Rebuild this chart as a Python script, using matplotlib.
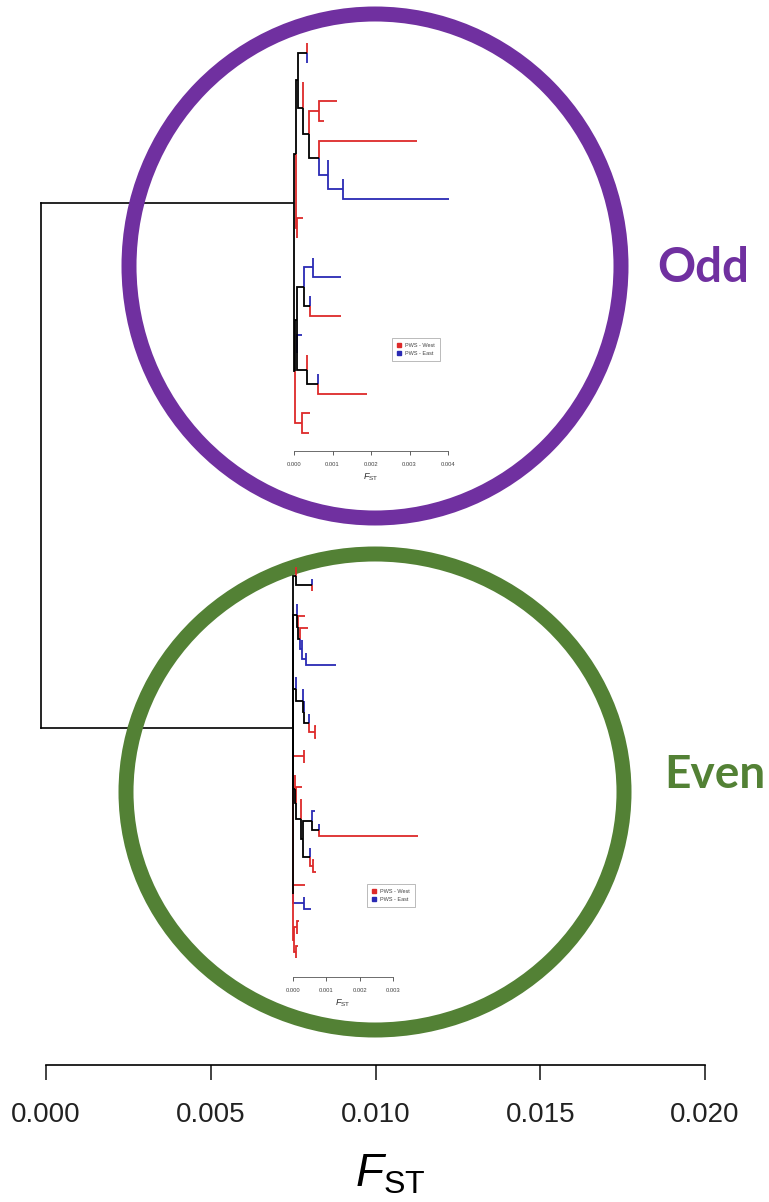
import matplotlib
matplotlib.use('Agg')
import matplotlib.pyplot as plt
from matplotlib.patches import Ellipse
from matplotlib.lines import Line2D

plt.rcParams['font.family'] = 'Liberation Sans'
plt.rcParams['mathtext.fontset'] = 'custom'
plt.rcParams['mathtext.it'] = 'Liberation Sans:italic'
plt.rcParams['mathtext.rm'] = 'Liberation Sans'

W, E = 'W', 'E'   # PWS - West / PWS - East

# main dendrogram: the two groups joined at the root
main_groups = ['Odd', 'Even']
main_root = -0.00015
main_tips = [0.0075, 0.0075]
main_ticks = [0.000, 0.005, 0.010, 0.015, 0.020]

# inset trees
# internal node = (height, [children]), tip = (height, population)
odd_upper = (0.000044, [
    (0.0001, [
        (0.00034, [(0.00034, W), (0.00034, E)]),
        (0.000226, [(0.000226, W),
                    (0.00039, [(0.00065, [(0.00111, W), (0.00078, W)]),
                               (0.00065, [(0.00319, W),
                                          (0.00088, [(0.00088, E),
                                                     (0.00128, [(0.00128, E), (0.00403, E)])])])])]),
    ]),
    (0.00007, [(0.00024, W), (0.00007, W)]),
])
odd_lower = (0.00002, [
    (0.00007, [
        (0.00026, [(0.00049, [(0.00049, E), (0.00121, E)]),
                   (0.00042, [(0.00042, E), (0.00121, W)])]),
        (0.000086, [(0.00021, E),
                    (0.00034, [(0.00034, W),
                               (0.00062, [(0.00062, E), (0.00189, W)])])]),
    ]),
    (0.00021, [(0.00042, W), (0.00039, W)]),
])
odd_tree = (0.0, [odd_upper, odd_lower])
odd_ticks = [0.000, 0.001, 0.002, 0.003, 0.004]

even_c1 = (0.00009, [(0.00009, W), (0.00057, [(0.00057, E), (0.00057, W)])])
even_c2 = (0.00013, [(0.00013, E),
                     (0.00014, [(0.00037, W),
                                (0.0002, [(0.00045, W),
                                          (0.00027, [(0.00027, E),
                                                     (0.00039, [(0.00039, E), (0.00129, E)])])])])])
even_c3 = (0.00009, [(0.00009, E),
                     (0.00029, [(0.00029, E),
                                (0.00033, [(0.00033, E),
                                           (0.00047, [(0.00047, E),
                                                      (0.00067, [(0.0007, W), (0.00069, W)])])])])])
even_c4 = (0.00033, [(0.00033, W), (0.00033, W)])
even_c5 = (0.00005, [(0.00005, W),
                     (0.0001, [(0.00028, W),
                               (0.00025, [(0.00025, W),
                                          (0.0003, [(0.00057, [(0.00065, E),
                                                               (0.00079, [(0.00079, E), (0.00374, W)])]),
                                                    (0.00051, [(0.00051, E),
                                                               (0.00061, [(0.00063, W), (0.00068, W)])])])])])])
even_c6 = (0.00001, [(0.00037, W), (0.00033, [(0.00033, E), (0.00055, E)])])
even_c7 = (0.00002, [(0.00013, [(0.00017, W), (0.00013, W)]),
                     (0.0001, [(0.00014, W), (0.0001, W)])])
even_tree = (0.0, [even_c1, even_c2, even_c3, even_c4, even_c5, even_c6, even_c7])
even_ticks = [0.000, 0.001, 0.002, 0.003]

legend_labels = ['PWS - West', 'PWS - East']

RED = '#dd2a2a'
BLUE = '#2a2ab4'
PURPLE = '#7030a0'
GREEN = '#538135'
POP_COLOUR = {W: RED, E: BLUE}

FW, FH = 769, 1202
fig = plt.figure(figsize=(FW / 100, FH / 100), dpi=100)


def px_axes(left, top, right, bottom, **kw):
    return fig.add_axes([left / FW, 1 - bottom / FH, (right - left) / FW, (bottom - top) / FH], **kw)


def is_tip(node):
    return isinstance(node[1], str)


def clade_colour(node):
    if is_tip(node):
        return POP_COLOUR[node[1]]
    cols = {clade_colour(k) for k in node[1]}
    return cols.pop() if len(cols) == 1 else 'black'


def n_tips(node):
    return 1 if is_tip(node) else sum(n_tips(k) for k in node[1])


def draw_tree(ax, node, counter, lw):
    h, kids = node
    if is_tip(node):
        y = counter[0]
        counter[0] += 1
        return y
    ys = [draw_tree(ax, k, counter, lw) for k in kids]
    y = (ys[0] + ys[-1]) / 2
    for k, yk in zip(kids, ys):
        c = clade_colour(k)
        ax.plot([h, h, k[0]], [y, yk, yk], color=c, lw=lw, zorder=3 if c == 'black' else 2,
                clip_on=False, solid_capstyle='butt', solid_joinstyle='miter')
    return y


# ---- main axis and dendrogram
ax = px_axes(46, 0, 705, 1065)
ax.set_xlim(main_ticks[0], main_ticks[-1])
gap = 728 - 203
ax.set_ylim(1 + (1065 - 728) / gap, -203 / gap)
ys = list(range(len(main_groups)))
ax.plot([main_root, main_root], [ys[0], ys[-1]], color='black', lw=1.2, clip_on=False)
for y, tip in zip(ys, main_tips):
    ax.plot([main_root, tip], [y, y], color='black', lw=1.2, clip_on=False)
for s in ['left', 'right', 'top']:
    ax.spines[s].set_visible(False)
ax.spines['bottom'].set_bounds(main_ticks[0], main_ticks[-1])
ax.spines['bottom'].set_linewidth(1.2)
ax.set_yticks([])
ax.set_xticks(main_ticks)
ax.set_xticklabels(['%.3f' % t for t in main_ticks])
ax.tick_params(axis='x', direction='out', length=11, width=1.2, pad=16, labelsize=20, colors='#222222')
ax.set_xlabel(r'$F_{\mathrm{ST}}$', fontsize=33)
ax.xaxis.set_label_coords((390 - 46) / 659, -(1197 - 1065) / 1065, transform=ax.transAxes)
ax.xaxis.label.set_va('bottom')
ax.set_facecolor('none')

# ---- circles and group names
ov = px_axes(0, 0, FW, FH, zorder=2)
ov.set_xlim(0, FW)
ov.set_ylim(FH, 0)
ov.axis('off')
ov.add_patch(Ellipse((375, 266), 2 * 246, 2 * 252, fill=False, lw=10.8, ec=PURPLE))
ov.add_patch(Ellipse((375, 792), 2 * 249, 2 * 238, fill=False, lw=10.8, ec=GREEN))
ov.text(657, 282, main_groups[0], color=PURPLE, fontsize=34, fontweight='bold', family='Lato', va='baseline')
ov.text(664, 788, main_groups[1], color=GREEN, fontsize=33, fontweight='bold', family='Lato', va='baseline')


# ---- inset trees
def inset(tree, ticks, left, right, first, last, axis_y, leg_x, leg_y):
    a = px_axes(left, first - 10, right, axis_y, zorder=3)
    a.set_facecolor('none')
    n = n_tips(tree)
    step = (last - first) / (n - 1)
    a.set_xlim(ticks[0], ticks[-1])
    a.set_ylim((n - 1) + (axis_y - last) / step, -10 / step)
    draw_tree(a, tree, [0], 1.3)
    for s in ['left', 'right', 'top']:
        a.spines[s].set_visible(False)
    a.spines['bottom'].set_bounds(ticks[0], ticks[-1])
    a.spines['bottom'].set_linewidth(0.6)
    a.spines['bottom'].set_color('#555555')
    a.set_yticks([])
    a.set_xticks(ticks)
    a.set_xticklabels(['%.3f' % t for t in ticks])
    a.tick_params(axis='x', direction='out', length=3, width=0.6, pad=5, labelsize=4.2,
                  colors='#444444')
    a.set_xlabel(r'$F_{\mathrm{ST}}$', fontsize=6.5, labelpad=3, color='#333333')
    handles = [Line2D([], [], marker='s', ls='none', ms=2.6, color=POP_COLOUR[p]) for p in (W, E)]
    leg = a.legend(handles, legend_labels, loc='upper left',
                   bbox_to_anchor=(leg_x / FW, 1 - leg_y / FH), bbox_transform=fig.transFigure,
                   fontsize=4, frameon=True, fancybox=False, edgecolor='#888888',
                   handlelength=0.8, handletextpad=0.6, borderpad=0.9, labelspacing=0.5,
                   borderaxespad=0)
    leg.get_frame().set_linewidth(0.5)
    for t in leg.get_texts():
        t.set_color('#444444')
    return a


inset(odd_tree, odd_ticks, 294, 448, 43, 433, 451, 392, 338)
inset(even_tree, even_ticks, 293, 393, 567, 958, 977, 367, 884)

fig.savefig('out.png', dpi=100)
